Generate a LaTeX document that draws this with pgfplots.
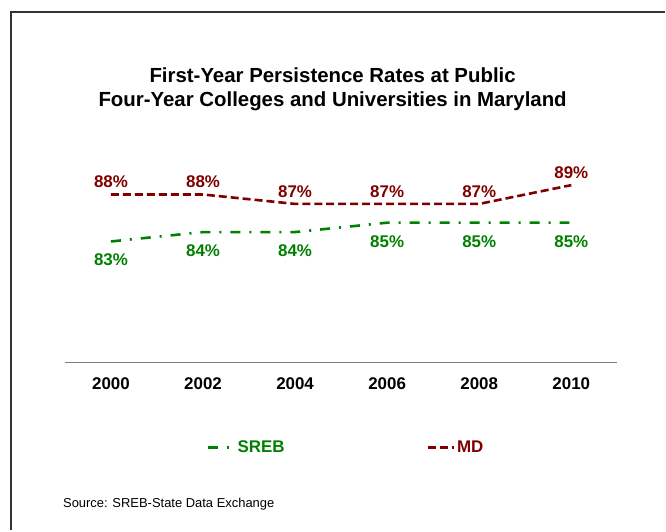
\documentclass[border=0pt]{standalone}
\usepackage{fontspec}
\setmainfont{Liberation Sans}
\usepackage{pgfplots}
\pgfplotsset{compat=1.18}
\definecolor{mdred}{RGB}{128,0,0}
\definecolor{srebgreen}{RGB}{0,128,0}

\begin{document}
\begin{tikzpicture}[x=1bp,y=1bp]
\path (0,0) rectangle (666,531);
\draw[line width=1.5bp, black!80] (11,0) -- (11,519) -- (666,519);
\node[font=\bfseries\fontsize{20.5}{24}\selectfont, align=center] at (333,442)
  {First-Year Persistence Rates at Public\\Four-Year Colleges and Universities in Maryland};
\node[font=\fontsize{13}{15}\selectfont, anchor=west, inner sep=0pt] at (63,26)
  {Source: SREB-State Data Exchange};

\begin{axis}[
at={(65bp,168bp)}, anchor=south west,
scale only axis, width=553bp, height=188bp,
xmin=-0.5, xmax=5.5, ymin=70.1, ymax=90.1,
axis x line=bottom, axis y line=none,
axis line style={black!50, line width=1.2bp, -},
xtick={0,...,5}, xticklabels={2000,2002,2004,2006,2008,2010},
major tick length=0,
xticklabel style={font=\bfseries\fontsize{17}{20}\selectfont, yshift=-12bp},
clip=false,
/pgf/number format/assume math mode=true,
nodes near coords={\pgfmathprintnumber{\pgfplotspointmeta}\%},
nodes near coords style={font=\bfseries\fontsize{17}{20}\selectfont},
legend columns=2,
legend style={draw=none, fill=none, at={(0.257,-0.452)}, anchor=west,
  inner sep=0pt, font=\bfseries\fontsize{17}{20}\selectfont,
  /tikz/every even column/.append style={column sep=140bp}},
legend image code/.code={\draw[#1] (0bp,0bp) -- (26bp,0bp);},
]
\addplot[srebgreen, line width=2.6bp, dash pattern=on 10bp off 9bp on 2bp off 9bp,
  every node near coord/.append style={text=srebgreen, anchor=north, yshift=-8bp}]
  coordinates {(0,83) (1,84) (2,84) (3,85) (4,85) (5,85)};
\addlegendentry{\textcolor{srebgreen}{SREB}}
\addplot[mdred, line width=2.6bp, dash pattern=on 8bp off 4bp,
  every node near coord/.append style={text=mdred, anchor=south, yshift=2bp}]
  coordinates {(0,88) (1,88) (2,87) (3,87) (4,87) (5,89)};
\addlegendentry{\textcolor{mdred}{MD}}
\end{axis}
\end{tikzpicture}
\end{document}
